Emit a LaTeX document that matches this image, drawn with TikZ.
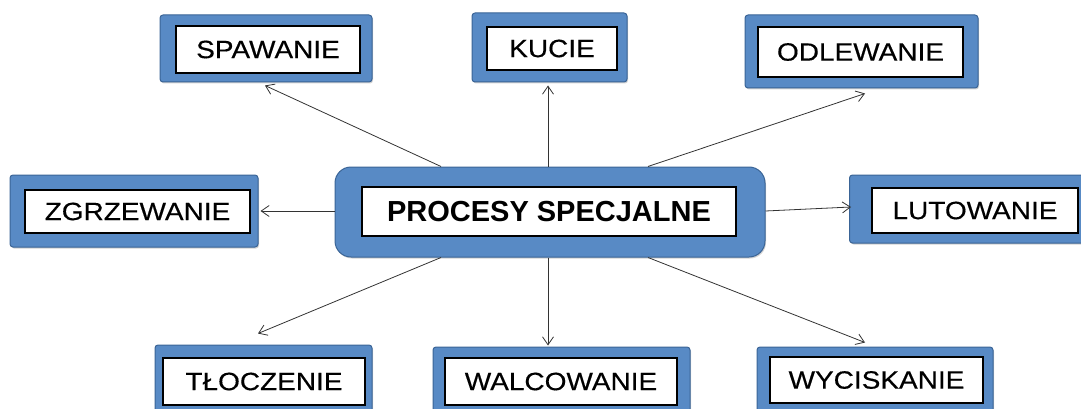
\documentclass[tikz,border=0pt]{standalone}
\usepackage{fontspec}
\setmainfont{Liberation Sans}
\newfontfamily\labfont[FakeStretch=1.12,FakeBold=0.4]{Liberation Sans}
\usetikzlibrary{arrows.meta,shadows}
\definecolor{boxblue}{RGB}{88,138,197}
\definecolor{boxedge}{RGB}{58,100,150}
\tikzset{
  outerbox/.style={draw=boxedge,line width=1pt,fill=boxblue,rounded corners=3pt,
    drop shadow={shadow xshift=1pt,shadow yshift=-1.5pt,opacity=0.35},
    inner sep=0pt,minimum width=#1},
  innerbox/.style={draw=black,line width=1.2pt,fill=white,inner sep=0pt,
    font=\labfont\fontsize{25}{29}\selectfont},
  conn/.style={draw=black!80,line width=0.8pt,-{Straight Barb[length=8pt,width=11pt,line width=0.8pt]}}
}
\begin{document}
\begin{tikzpicture}[x=1pt,y=-1pt]
\useasboundingbox (0,0) rectangle (1081,409);
% outer boxes
\node[outerbox=212pt,minimum height=67pt] (spaw) at (266,48.5) {};
\node[outerbox=155pt,minimum height=69pt] (kucie) at (549.5,47.5) {};
\node[outerbox=233pt,minimum height=73pt] (odl) at (861.5,51.5) {};
\node[outerbox=248pt,minimum height=72pt] (zgrz) at (134,211) {};
\node[outerbox=245pt,minimum height=68pt] (lut) at (972,209) {};
\node[outerbox=430pt,minimum height=90pt,rounded corners=16pt] (c) at (550,212) {};
\node[outerbox=217pt,minimum height=73pt] (tl) at (263.5,381.5) {};
\node[outerbox=257pt,minimum height=72pt] (wal) at (561.5,383) {};
\node[outerbox=236pt,minimum height=71pt] (wyc) at (875,382.5) {};
% inner boxes
\node[innerbox,minimum width=184pt,minimum height=47pt] (spawi) at (268,49.5) {SPAWANIE};
\node[innerbox,minimum width=130pt,minimum height=43pt] (kuciei) at (552,48.5) {KUCIE};
\node[innerbox,minimum width=205pt,minimum height=50pt] (odli) at (860.5,52) {ODLEWANIE};
\node[innerbox,minimum width=225pt,minimum height=43pt] (zgrzi) at (137.5,211.5) {ZGRZEWANIE};
\node[innerbox,minimum width=206pt,minimum height=45pt] (luti) at (975,210.5) {LUTOWANIE};
\node[innerbox,minimum width=374pt,minimum height=49pt,font=\fontsize{29}{33}\selectfont\bfseries] (ci) at (549,211.5) {PROCESY SPECJALNE};
\node[innerbox,minimum width=202pt,minimum height=47pt] (tli) at (264,381.5) {TŁOCZENIE};
\node[innerbox,minimum width=232pt,minimum height=47pt] (wali) at (561,381.5) {WALCOWANIE};
\node[innerbox,minimum width=213pt,minimum height=46pt] (wyci) at (876.5,380) {WYCISKANIE};
% connectors
\draw[conn] ([xshift=-109pt]c.north) -- ([xshift=-1pt,yshift=-3pt]spaw.south);
\draw[conn] ([xshift=-2pt]c.north) -- ([xshift=-1.5pt,yshift=-3pt]kucie.south);
\draw[conn] ([xshift=98pt]c.north) -- ([xshift=3.5pt,yshift=-5pt]odl.south);
\draw[conn] ([yshift=1pt]c.west) -- ([xshift=2pt]zgrz.east);
\draw[conn] ([yshift=1pt]c.east) -- ([xshift=2pt,yshift=2pt]lut.west);
\draw[conn] ([xshift=-109pt]c.south) -- ([xshift=-5.5pt,yshift=11pt]tl.north);
\draw[conn] ([xshift=-2pt]c.south) -- ([xshift=-13.5pt,yshift=1pt]wal.north);
\draw[conn] ([xshift=98pt]c.south) -- ([xshift=-10pt,yshift=4pt]wyc.north);
\end{tikzpicture}
\end{document}
